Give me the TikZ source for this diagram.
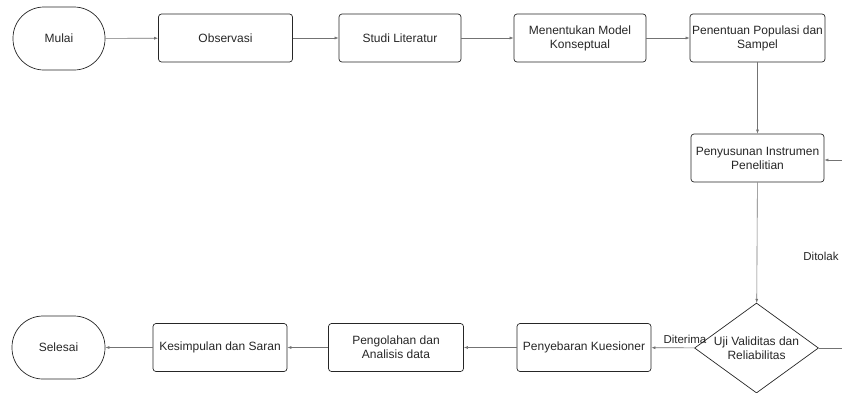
\documentclass[tikz,border=0pt]{standalone}
\usepackage{fontspec}
\setmainfont{Liberation Sans}
\usetikzlibrary{arrows.meta,shapes.geometric}
\begin{document}
\begin{tikzpicture}[x=1pt,y=-1pt,
  every node/.style={font=\fontsize{12}{14}\selectfont, align=center, text=black!85},
  box/.style={draw=black!85, line width=0.7pt, rounded corners=3pt, minimum width=134pt, minimum height=48pt, inner sep=0pt},
  term/.style={draw=black!85, line width=0.7pt, rounded corners=31pt, minimum width=92pt, minimum height=63pt},
  dec/.style={draw=black!85, line width=0.7pt, diamond, minimum width=124pt, minimum height=90pt, inner sep=-20pt},
  conn/.style={draw=black!55, line width=0.6pt, -{Latex[length=4pt,width=3pt]}},
  lbl/.style={font=\fontsize{11.5}{13}\selectfont}
]
\useasboundingbox (0,0) rectangle (842,392);
\clip (0,0) rectangle (842,392);
\node[term] (mulai) at (59,38.5) {Mulai};
\node[box] (obs) at (225.5,38) {Observasi};
\node[box, minimum width=122pt] (studi) at (400,38) {Studi Literatur};
\node[box, minimum width=132pt] (model) at (580,38) {Menentukan Model\\Konseptual};
\node[box, minimum width=135pt] (pop) at (757.5,38) {Penentuan Populasi dan\\Sampel};
\node[box, minimum width=133pt] (instr) at (757.5,158) {Penyusunan Instrumen\\Penelitian};
\node[dec] (uji) at (756.5,348) {Uji Validitas dan\\Reliabilitas};
\node[box] (sebar) at (584,347.5) {Penyebaran Kuesioner};
\node[box, minimum width=135pt] (olah) at (396,347.5) {Pengolahan dan\\Analisis data};
\node[box] (simp) at (220,347.5) {Kesimpulan dan Saran};
\node[term, minimum width=93pt] (selesai) at (58.5,347.5) {Selesai};
\coordinate (rout) at (845,348);
\coordinate (rin) at (845,160);
\draw[conn] (mulai) -- (obs);
\draw[conn] (obs) -- (studi);
\draw[conn] (studi) -- (model);
\draw[conn] (model) -- (pop);
\draw[conn] (pop) -- (instr);
\draw[conn] (instr) -- (uji);
\draw[conn] (uji) -- node[lbl, pos=0.22, above=1pt] {Diterima} (sebar);
\draw[conn] (sebar) -- (olah);
\draw[conn] (olah) -- (simp);
\draw[conn] (simp) -- (selesai);
\draw[draw=black!55, line width=0.6pt] (uji.east) -- (rout);
\draw[conn] (rin) -- (instr.east |- rin);
\node[lbl] (ditolak) at (821,256) {Ditolak};
\end{tikzpicture}
\end{document}
